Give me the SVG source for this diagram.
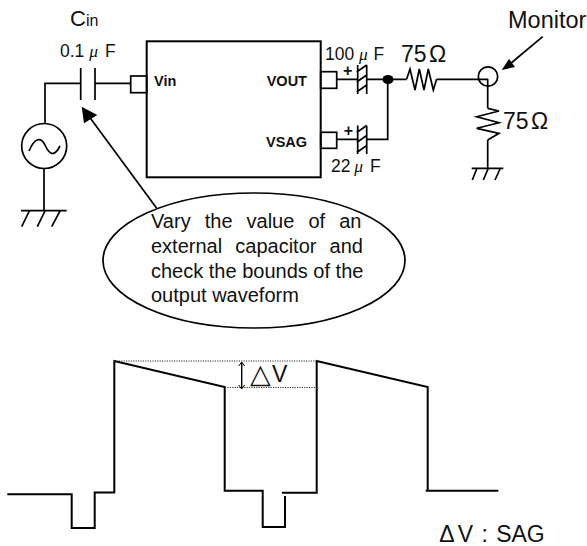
<svg xmlns="http://www.w3.org/2000/svg" width="587" height="546" viewBox="0 0 587 546">
<style>
text{font-family:"Liberation Sans",Arial,sans-serif;fill:#111}
.l{fill:none;stroke:#000;stroke-width:1.7}
.t{fill:none;stroke:#000;stroke-width:2}
.d{fill:none;stroke:#333;stroke-width:1;stroke-dasharray:1.2 1.2}
.b{font-weight:bold;font-size:14.5px}
.s{font-size:17.5px}
.u{font-family:"Liberation Serif",serif;font-style:italic;font-size:17.5px}
.m{font-size:23px}
.o{font-size:20px}
.p{font-size:16px;font-weight:bold}
</style>
<g id="connectors">
<path class="l" d="M131 83.300H95M80.700 83.300H45V123M44 168V210.700M387.700 80V139.300H366.700M357.700 139.300H336.700M336.700 79.300H357.700M366.700 79.300H406.700M436.700 79.300H488M487.700 79V108.300M487.700 140V168.300"/>
<path class="l" d="M156.700 208.300L88 115"/>
<path d="M81.700 106.700L97.300 115L84 123.300z" fill="#000"/>
<path class="l" d="M542.700 36.700L510 64"/>
<path d="M501.700 70L509 59L515 67z" fill="#000"/>
</g>
<g id="cin"><path class="l" d="M80.700 68V100M95 68V100"/>
<text x="70" y="26" font-size="22">C<tspan font-size="16">in</tspan></text>
<text class="s" x="60" y="56.700">0.1</text><text class="u" x="89.300" y="56.700">μ</text><text class="s" x="105" y="56.700">F</text></g>
<g id="source"><circle class="l" cx="44.200" cy="146" r="22.500"/><path class="l" d="M29 151C35 137 41 137 45 145C49 154 54 158 60 146"/>
<path class="l" d="M21 210.700H66.700M29.300 211L21.700 226.700M45 211L37.300 226.700M60 211L51.700 226.700"/></g>
<g id="ic"><rect class="t" x="146.700" y="41.300" width="174" height="136" fill="none"/>
<rect class="l" x="130.700" y="76" width="16" height="16.700"/><rect class="l" x="320.700" y="71.700" width="16" height="16.600"/><rect class="l" x="320.700" y="132.300" width="16" height="16"/>
<text class="b" x="154" y="86">Vin</text><text class="b" x="266.700" y="86">VOUT</text><text class="b" x="266" y="146.700">VSAG</text></g>
<g id="c100"><path class="l" d="M357.700 65V94M366.700 65V94M356.700 72L366.700 65M356.700 82L366.700 75M356.700 92L366.700 85"/>
<text class="p" x="343" y="75.500">+</text>
<text class="s" x="325" y="60.300">100</text><text class="u" x="359" y="60.300">μ</text><text class="s" x="373.500" y="60.300">F</text></g>
<g id="c22"><path class="l" d="M357.700 125.500V154M366.700 125.500V154M356.700 132.500L366.700 125.500M356.700 142.500L366.700 135.500M356.700 152.500L366.700 145.500"/>
<text class="p" x="343.700" y="135.500">+</text>
<text class="s" x="331" y="171.700">22</text><text class="u" x="354.300" y="171.700">μ</text><text class="s" x="370" y="171.700">F</text></g>
<g id="junction"><ellipse cx="388" cy="79.500" rx="5.600" ry="4.500" fill="#000"/></g>
<g id="r1"><path class="l" d="M406.700 79L410 69L415 90L419.300 69L424 90L428.300 69L433.300 90L436.700 79"/>
<text class="m" x="401" y="62.300">75</text><text class="m" x="429" y="62.300">Ω</text></g>
<g id="monitor"><circle class="l" cx="488" cy="76.500" r="9.700"/><text x="508" y="28.300" font-size="23.500">Monitor</text></g>
<g id="r2"><path class="l" d="M487.700 108.300L499 111L476.700 116.700L499 122.700L476.700 128.300L499 133.300L487.700 140"/>
<text class="m" x="503" y="129.300">75</text><text class="m" x="531" y="129.300">Ω</text>
<path class="l" d="M471.700 168.300H503.300M476.700 169L472.300 180M488 169L483.300 180M500 169L495 180"/></g>
<g id="note"><ellipse class="l" cx="254" cy="260.500" rx="151" ry="67.500" fill="#fff"/>
<text class="o" x="151" y="228" word-spacing="8.500">Vary the value of an</text>
<text class="o" x="151" y="253" word-spacing="7.600">external capacitor and</text>
<text class="o" x="151" y="277.500">check the bounds of the</text>
<text class="o" x="151" y="302">output waveform</text></g>
<g id="waveform"><path class="t" d="M7.300 494.300H71.700V528H94.700V492.500H114.300V361L224.700 387V490.700H262.700V527H285V496M282 492.700H316.700V361L427.700 387V490.700M425.700 490.700H498.300"/>
<path class="d" d="M114 361H317M225 387.500H317"/>
<path d="M241.700 363V388" stroke="#000" stroke-width="1.400" fill="none"/><path d="M238.700 366L241.700 362L244.700 366M238.700 385L241.700 389L244.700 385" stroke="#000" stroke-width="1" fill="none"/>
<text x="249.500" y="383" font-size="27">△</text><text x="272" y="381.700" font-size="23">V</text>
<text x="439.300" y="541.700" font-size="23" word-spacing="2">Δ<tspan dx="3">V</tspan> : SAG</text></g>
</svg>
